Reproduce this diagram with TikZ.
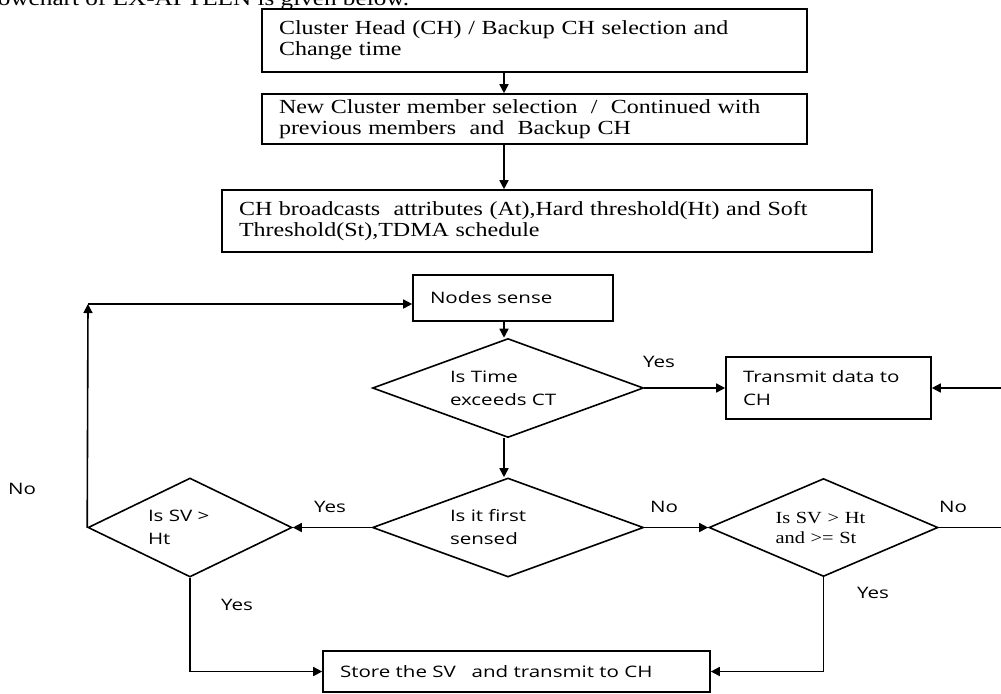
\documentclass[tikz,border=0pt]{standalone}
\usepackage{fontspec}
\setmainfont[FakeStretch=1.2]{Liberation Serif}
\newfontfamily\flowsans[FakeStretch=1.3]{Open Sans}
\usetikzlibrary{arrows.meta,shapes.geometric}
\tikzset{>={Triangle[width=4.5pt,length=4.5pt]}}

\begin{document}
\begin{tikzpicture}[x=0.5pt, y=-0.5pt, line width=0.8pt,
    hdrbox/.style={draw, rectangle, inner xsep=8.5pt, inner ysep=0pt, align=left,
      font=\fontsize{10}{10.5}\selectfont},
    flowbox/.style={draw, rectangle, inner xsep=8.5pt, inner ysep=0pt, align=left,
      font=\flowsans\fontsize{7.9}{11.5}\selectfont},
    decide/.style={draw, diamond, inner sep=0pt, align=left,
      font=\flowsans\fontsize{7.9}{11.5}\selectfont},
    lbl/.style={inner sep=0pt, font=\flowsans\fontsize{7.9}{11.5}\selectfont}]

  \useasboundingbox (0,0) rectangle (1001,693);

  \coordinate (col) at (504,0);   %% main column of arrows
  \coordinate (up) at (88,304);   %% corner of the loop back
  \coordinate (rim) at (1030,0);  %% right line, off the page

  \node[anchor=base east, inner sep=0pt, font=\fontsize{10.5}{12}\selectfont] (intro) at (410,5) {Flowchart of EX-APTEEN is given below.};

  %% set-up phase
  \node[hdrbox, minimum width=272.5pt, minimum height=31.5pt, text width=255.5pt] (ch) at (534.5,40.5) {Cluster Head (CH) / Backup CH selection and\\Change time};
  \node[hdrbox, minimum width=272.5pt, minimum height=25pt, text width=255.5pt] (mem) at (534.5,119) {New Cluster member selection ~/~ Continued with\\previous members ~and ~Backup CH};
  \node[hdrbox, minimum width=325pt, minimum height=31pt, text width=308pt] (bc) at (547,221) {CH broadcasts ~attributes (At),Hard threshold(Ht) and Soft\\Threshold(St),TDMA schedule};

  %% steady phase
  \node[flowbox, minimum width=100pt, minimum height=23pt, text width=83pt] (sense) at (513,298) {Nodes sense};
  \node[decide, minimum width=135.5pt, minimum height=49.5pt, aspect=2.74, text width=58pt] (time) at (508,388) {Is Time\\exceeds CT};
  \node[flowbox, minimum width=102.5pt, minimum height=31pt, text width=85.5pt] (tx) at (828.5,388) {Transmit data to\\CH};
  \node[decide, minimum width=135.5pt, minimum height=49.5pt, aspect=2.74, text width=58pt] (first) at (508,527.5) {Is it first\\sensed};
  \node[decide, minimum width=102pt, minimum height=49.5pt, aspect=2.06, text width=42pt] (ht) at (190,527.5) {Is SV >\\Ht};
  \node[decide, minimum width=114.5pt, minimum height=49pt, aspect=2.34, text width=48pt, font=\fontsize{8.5}{10}\selectfont] (st) at (823.5,527.5) {Is SV > Ht\\and >= St};
  \node[flowbox, minimum width=193.5pt, minimum height=20.5pt, text width=176.5pt] (store) at (516.5,671.5) {Store the SV ~~and transmit to CH};

  \draw[->] (ch.south -| col) -- (mem.north -| col);
  \draw[->] (mem.south -| col) -- (bc.north -| col);
  \draw[->] (sense.south -| col) -- (time.north -| col);
  \draw[->] (time.south -| col) -- (first.north -| col);
  \draw[->] (time.east) -- (tx.west);
  \draw[->] (first.west) -- (ht.east);
  \draw[->] (first.east) -- (st.west);
  \draw[->] (ht.west) -- (up);
  \draw[->] (up) -- (sense.west |- up);
  \draw[->] (ht.south) |- (store.west);
  \draw[->] (st.south) |- (store.east);
  \draw[->] (st.east) -- (st.east -| rim) |- (tx.east);

  %% yes / no
  \node[lbl] (yes1) at (659,362) {Yes};
  \node[lbl] (no1) at (664,507) {No};
  \node[lbl] (no2) at (953,507) {No};
  \node[lbl] (yes2) at (873,593) {Yes};
  \node[lbl] (yes3) at (330,507) {Yes};
  \node[lbl] (yes4) at (237,605) {Yes};
  \node[lbl] (no3) at (22,489) {No};

\end{tikzpicture}
\end{document}
